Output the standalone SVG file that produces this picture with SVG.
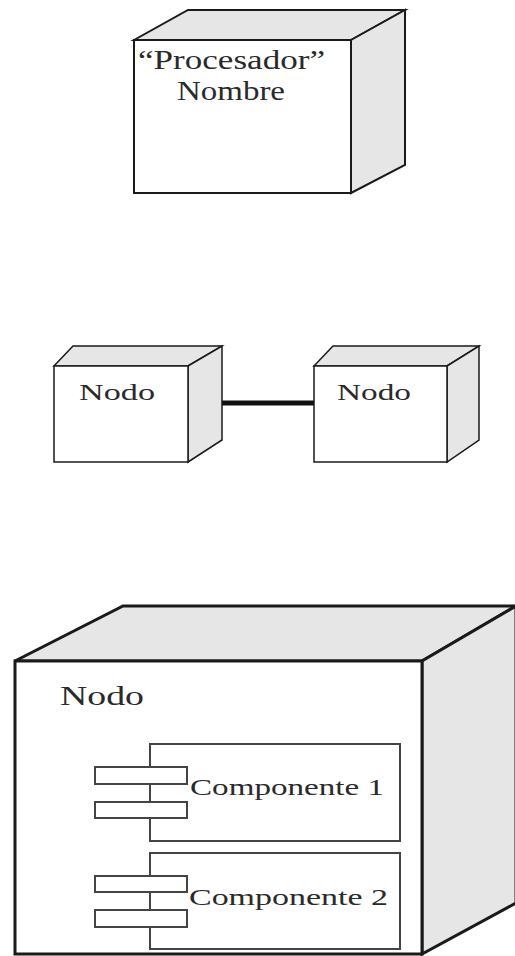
<svg xmlns="http://www.w3.org/2000/svg" width="515" height="956" viewBox="0 0 515 956">
<style>
.bg{fill:#ffffff}
.front{fill:#ffffff;stroke:#1a1a1a;stroke-linejoin:miter}
.side{fill:#e6e6e6;stroke:#1a1a1a;stroke-linejoin:miter}
.comp{fill:#ffffff;stroke:#444444;stroke-width:2}
.t{font-family:"Liberation Serif","Times New Roman",serif;fill:#2a2a2a}
.conn{stroke:#111111;stroke-width:5;fill:none}
</style>
<rect class="bg" x="0" y="0" width="515" height="956"/>
<g id="node-procesador">
<polygon class="side" stroke-width="2" points="134,40 188,10 405,10 351,40"/>
<polygon class="side" stroke-width="2" points="351,40 405,10 405,165 351,193"/>
<rect class="front" stroke-width="2" x="134" y="40" width="217" height="153"/>
<text class="t" x="138" y="69" font-size="27" textLength="187" lengthAdjust="spacingAndGlyphs">“Procesador”</text>
<text class="t" x="177" y="100" font-size="27" textLength="108" lengthAdjust="spacingAndGlyphs">Nombre</text>
</g>
<g id="connectors">
<line class="conn" x1="222" y1="403" x2="314" y2="403"/>
</g>
<g id="node-left">
<polygon class="side" stroke-width="1.5" points="54,366 73,346 222,346 188,366"/>
<polygon class="side" stroke-width="1.5" points="188,366 222,346 222,440 188,462"/>
<rect class="front" stroke-width="1.5" x="54" y="366" width="134" height="96"/>
<text class="t" x="79" y="400" font-size="23" textLength="76" lengthAdjust="spacingAndGlyphs">Nodo</text>
</g>
<g id="node-right">
<polygon class="side" stroke-width="1.5" points="314,366 333,346 479,346 447,366"/>
<polygon class="side" stroke-width="1.5" points="447,366 479,346 479,440 447,462"/>
<rect class="front" stroke-width="1.5" x="314" y="366" width="133" height="96"/>
<text class="t" x="337" y="400" font-size="23" textLength="74" lengthAdjust="spacingAndGlyphs">Nodo</text>
</g>
<g id="node-container">
<polygon class="side" stroke-width="3" points="15,661 123,606 516,606 422,661"/>
<polygon class="side" stroke-width="3" points="422,661 516,606 516,903 422,954"/>
<rect class="front" stroke-width="3" x="15" y="661" width="407" height="293"/>
<text class="t" x="60" y="705" font-size="27" textLength="84" lengthAdjust="spacingAndGlyphs">Nodo</text>
</g>
<g id="componente-1">
<rect class="comp" x="150" y="744" width="250" height="97"/>
<rect class="comp" x="95" y="767" width="92" height="17"/>
<rect class="comp" x="95" y="802" width="92" height="16"/>
<text class="t" x="190" y="795" font-size="23" textLength="194" lengthAdjust="spacingAndGlyphs">Componente 1</text>
</g>
<g id="componente-2">
<rect class="comp" x="150" y="853" width="250" height="96"/>
<rect class="comp" x="95" y="876" width="92" height="16"/>
<rect class="comp" x="95" y="910" width="92" height="17"/>
<text class="t" x="189" y="905" font-size="23" textLength="199" lengthAdjust="spacingAndGlyphs">Componente 2</text>
</g>
</svg>
